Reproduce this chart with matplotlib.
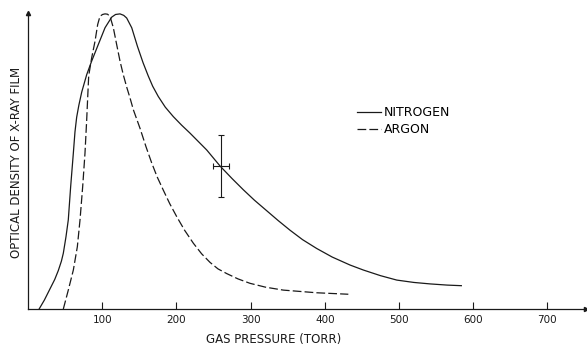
import matplotlib.pyplot as plt

# values (pressure in torr, density in arbitrary units)
n2_p = [15, 22, 29.6, 36, 40.8, 45, 47.6, 51.2, 54.3, 57.5, 61.1, 63.3, 65.6,
        68.5, 72.4, 79.1, 85.8, 94.7, 103.8, 112.8, 118, 124, 129, 133, 139.8,
        147.5, 155, 162, 168, 175.6, 185, 195.8, 207, 218.3, 240.8, 259, 275,
        290.2, 305, 321.7, 337, 353.1, 370, 389.1, 410, 434, 452, 475, 497, 520,
        542, 565, 584]
n2_d = [0, 0.03, 0.068, 0.1, 0.13, 0.162, 0.189, 0.245, 0.302, 0.415, 0.528, 0.6,
        0.65, 0.69, 0.735, 0.794, 0.840, 0.896, 0.953, 0.989, 0.998, 1.0, 0.995,
        0.986, 0.953, 0.89, 0.835, 0.79, 0.755, 0.72, 0.684, 0.652, 0.623, 0.596,
        0.539, 0.484, 0.442, 0.404, 0.369, 0.333, 0.3, 0.267, 0.235, 0.205,
        0.176, 0.149, 0.132, 0.113, 0.098, 0.09, 0.085, 0.081, 0.079]

ar_p = [47.6, 54.3, 61.1, 66.5, 70.1, 73.7, 76.8, 79.1, 80.5, 81.8, 85.8, 90.3,
        93.9, 97, 100.5, 103.8, 107, 110.5, 115, 119.5, 124, 128.4, 133, 137.5,
        142, 151, 159, 166.7, 174, 182.3, 191, 200.4, 211, 222.8, 234, 245.3,
        256, 267.8, 283, 299.2, 320, 344.1, 389.1, 431.7]
ar_d = [0, 0.064, 0.132, 0.211, 0.302, 0.415, 0.528, 0.641, 0.72, 0.79, 0.851,
        0.907, 0.964, 0.992, 0.998, 1.0, 0.999, 0.992, 0.953, 0.896, 0.840, 0.794,
        0.752, 0.715, 0.675, 0.612, 0.55, 0.495, 0.448, 0.403, 0.357, 0.313, 0.267,
        0.223, 0.187, 0.158, 0.136, 0.12, 0.102, 0.087, 0.074, 0.064, 0.055, 0.05]

# error bar on the nitrogen curve
err_p, err_d = 260, 0.484
err_dp, err_dd = 10.5, 0.104

xticks = [100, 200, 300, 400, 500, 600, 700]

plt.rcParams['font.family'] = 'DejaVu Sans'
ink = '#1a1a1a'

fig = plt.figure(figsize=(5.87, 3.48), dpi=100)
ax = fig.add_axes([28 / 587, 39 / 348, 558 / 587, 296 / 348])

ax.plot(n2_p, n2_d, color=ink, lw=0.9, label='NITROGEN', clip_on=False,
        solid_joinstyle='round')
ax.plot(ar_p, ar_d, color=ink, lw=0.9, dashes=(7, 2.5), label='ARGON', clip_on=False)
ax.errorbar(err_p, err_d, xerr=err_dp, yerr=err_dd, color=ink, lw=0.8,
            capsize=2.5, capthick=0.8, fmt='none')

ax.set_xlim(0, 752)
ax.set_ylim(0, 1.003)
ax.spines['top'].set_visible(False)
ax.spines['right'].set_visible(False)
for s in ('left', 'bottom'):
    ax.spines[s].set_linewidth(0.9)
    ax.spines[s].set_color(ink)
ax.plot(1, 0, '>', color=ink, ms=3, transform=ax.transAxes, clip_on=False)
ax.plot(0, 1, '^', color=ink, ms=3, transform=ax.transAxes, clip_on=False)

ax.set_xticks(xticks)
ax.set_xticklabels([str(t) for t in xticks])
ax.tick_params(axis='x', direction='in', length=5, width=0.8, pad=4,
               labelsize=7.5, colors=ink)
ax.set_yticks([])

ax.legend(loc='upper left', bbox_to_anchor=(0.59, 0.685), frameon=False,
          handlelength=1.9, handletextpad=0.2, labelspacing=0.3,
          fontsize=9, borderpad=0, borderaxespad=0)

fig.text(274 / 587, 1 - 340 / 348, 'GAS PRESSURE (TORR)', ha='center', va='center',
         fontsize=8.5, color=ink)
fig.text(17 / 587, 1 - 162 / 348, 'OPTICAL DENSITY OF X-RAY FILM', ha='center',
         va='center', rotation=90, fontsize=8.5, color=ink)

fig.savefig('out.png', dpi=100)
